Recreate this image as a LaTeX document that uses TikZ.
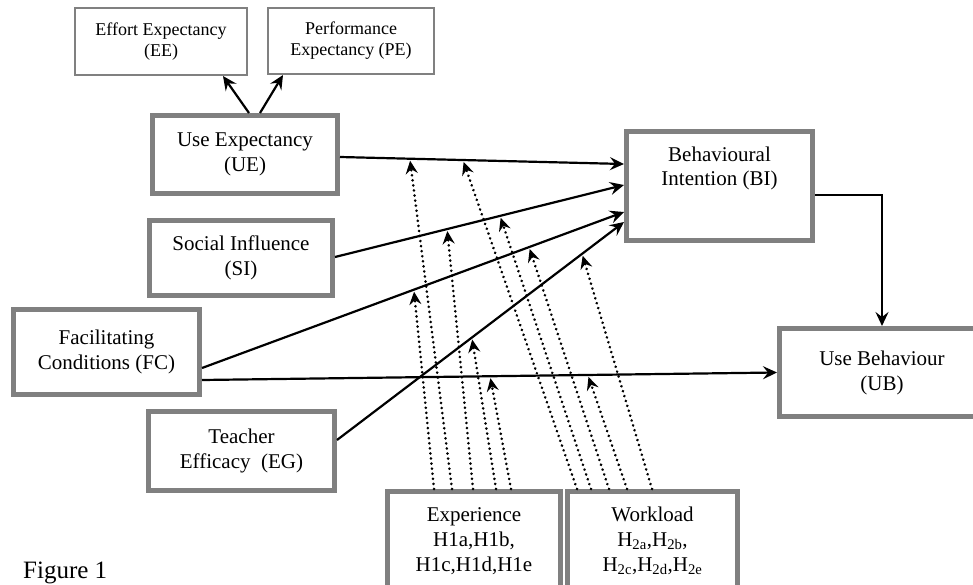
\documentclass[tikz,border=0pt]{standalone}
\usepackage{fontspec}
\setmainfont{Liberation Serif}
\usetikzlibrary{arrows.meta,calc}
\definecolor{boxgray}{RGB}{128,128,128}
\tikzset{
  bigbox/.style={draw=boxgray, line width=5pt, fill=white, inner sep=0pt, align=center,
    font=\fontsize{21}{25}\selectfont},
  smallbox/.style={draw=boxgray, line width=2pt, fill=white, inner sep=0pt, align=center,
    font=\fontsize{18}{21}\selectfont},
  boxtext/.style={inner sep=0pt, align=center, font=\fontsize{21}{24}\selectfont},
  conn/.style={line width=2.2pt, -{Stealth[length=14pt,width=13pt,inset=5pt]}},
  modarrow/.style={line width=2.8pt, line cap=round, dash pattern=on 0.1pt off 5pt,
    -{Stealth[length=13pt,width=12pt,inset=4.5pt]}, shorten >=2pt}
}
\begin{document}
\begin{tikzpicture}[x=1pt,y=-1pt]
\useasboundingbox (0,0) rectangle (973,585);
\clip (0,0) rectangle (973,585);

% boxes
\node[smallbox, minimum width=172, minimum height=67] (ee) at (161,41.5) {Effort Expectancy\\(EE)};
\node[smallbox, minimum width=166, minimum height=66] (pe) at (351,41) {Performance\\Expectancy (PE)};
\node[bigbox, minimum width=185, minimum height=78] (ue) at (245,154.5) {Use Expectancy\\(UE)};
\node[bigbox, minimum width=183, minimum height=75] (si) at (241,258) {Social Influence\\(SI)};
\node[bigbox, minimum width=186, minimum height=85] (fc) at (106.5,352) {Facilitating\\Conditions (FC)};
\node[bigbox, minimum width=186, minimum height=79] (eg) at (241.5,451) {Teacher\\Efficacy\ \ (EG)};
\node[bigbox, minimum width=186, minimum height=109] (bi) at (719.5,186) {};
\node[boxtext] (bitext) at (719.5,168) {Behavioural\\Intention (BI)};
\node[bigbox, minimum width=205, minimum height=88] (ub) at (882,372.5) {Use Behaviour\\(UB)};
\node[bigbox, minimum width=173, minimum height=99] (exp) at (474,541) {Experience\\H1a,H1b,\\H1c,H1d,H1e};
\node[bigbox, minimum width=170, minimum height=99] (wl) at (652.5,541)
  {Workload\\H\textsubscript{2a},H\textsubscript{2b},\\H\textsubscript{2c},H\textsubscript{2d},H\textsubscript{2e}};
\node[anchor=base west, inner sep=0pt, font=\fontsize{25}{30}\selectfont] (fig) at (23,578.5) {Figure 1};

% UE to EE / PE
\draw[conn] ([xshift=4pt]ue.north) -- ([xshift=62pt]ee.south);
\draw[conn] ([xshift=15pt]ue.north) -- ([xshift=-68pt]pe.south);

% main paths
\draw[conn] ($(ue.east)+(0,2.5)$) -- coordinate[pos=0.246] (m1) coordinate[pos=0.433] (m2) ($(bi.west)+(0,-22)$);
\draw[conn] ($(si.east)+(0,-1)$) -- coordinate[pos=0.388] (m3) coordinate[pos=0.571] (m4) ($(bi.west)+(0,-1)$);
\draw[conn] ($(fc.east)+(0,16)$) -- coordinate[pos=0.502] (m5) coordinate[pos=0.775] (m6) ($(bi.west)+(0,26)$);
\draw[conn] ($(eg.east)+(0,-11)$) -- coordinate[pos=0.854] (m7) coordinate[pos=0.470] (m8) ($(bi.west)+(0,36)$);
\draw[conn] ($(fc.east)+(0,28)$) -- coordinate[pos=0.501] (m9) coordinate[pos=0.671] (m10) (ub.west);
\draw[conn, line width=1.8pt] ($(bi.east)+(0,9)$) -| (ub.north);

% moderating effects
\draw[modarrow] ($(exp.north west)+(49,0)$) -- (m5);
\draw[modarrow] ($(exp.north west)+(67,0)$) -- (m1);
\draw[modarrow] ($(exp.north west)+(88,0)$) -- (m3);
\draw[modarrow] ($(exp.north west)+(111,0)$) -- (m8);
\draw[modarrow] ($(exp.north west)+(126,0)$) -- (m9);
\draw[modarrow] ($(wl.north west)+(12,0)$) -- (m2);
\draw[modarrow] ($(wl.north west)+(26,0)$) -- (m4);
\draw[modarrow] ($(wl.north west)+(44,0)$) -- (m6);
\draw[modarrow] ($(wl.north west)+(62,0)$) -- (m10);
\draw[modarrow] ($(wl.north west)+(87,0)$) -- (m7);
\end{tikzpicture}
\end{document}
